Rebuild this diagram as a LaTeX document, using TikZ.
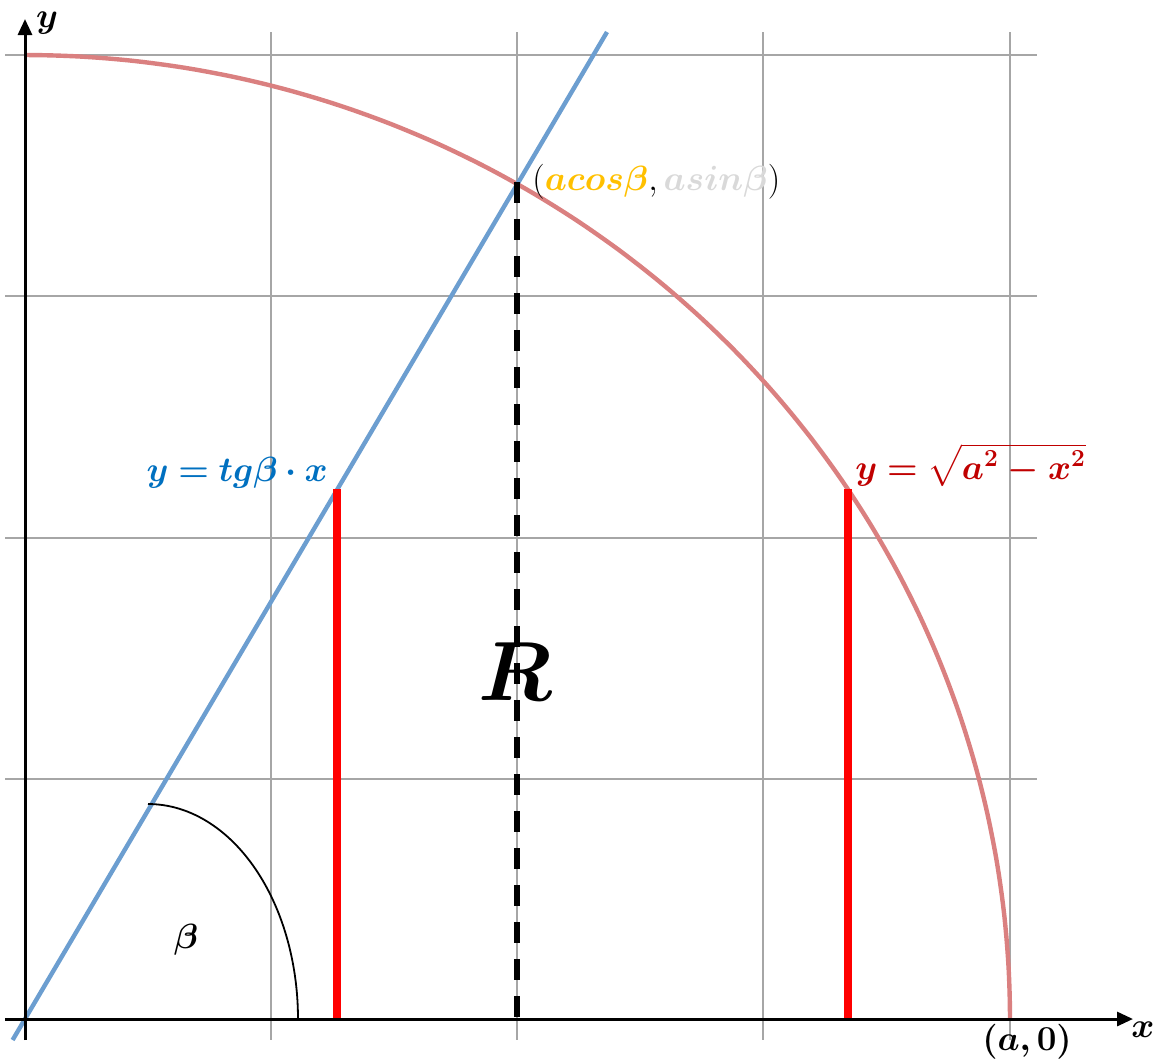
\documentclass[tikz,border=0pt]{standalone}
\usepackage{fix-cm}
\usepackage{amsmath,bm}
\usetikzlibrary{arrows.meta}
\definecolor{circ}{RGB}{218,128,128}
\definecolor{bline}{RGB}{108,158,208}
\definecolor{gridc}{RGB}{166,166,166}
\definecolor{lblue}{RGB}{0,112,192}
\definecolor{lred}{RGB}{192,0,0}
\definecolor{gold}{RGB}{255,192,0}
\definecolor{lgray}{RGB}{217,217,217}
\begin{document}
\begin{tikzpicture}[x=0.5pt,y=-0.5pt,
  gridline/.style={gridc, line width=1.3pt},
  axisline/.style={black, line width=1.5pt, -{Triangle[length=8pt,width=7pt]}},
  curveA/.style={circ, line width=2.2pt},
  lineB/.style={bline, line width=2.2pt},
  redbar/.style={red, line width=3.6pt},
  dashline/.style={black, line width=2.8pt, dash pattern=on 10.5pt off 8pt},
  lbl/.style={font=\fontsize{17.5}{20}\selectfont, inner sep=1pt}]
\useasboundingbox (0,0) rectangle (1156,1062);
% grid
\foreach \gx in {25,271,517,763,1010}
  \draw[gridline] (\gx,32) -- (\gx,1040);
\foreach \gy in {55,296,538,779,1019}
  \draw[gridline] (5,\gy) -- (1037,\gy);
% key points
\coordinate (O) at (25,1019);
\coordinate (P) at (517,182);
\coordinate (Pb) at (517,1019);
\coordinate (L0) at (12.6,1040);
\coordinate (L1) at (607,32);
\coordinate (A1) at (337,489);
\coordinate (A0) at (337,1019);
\coordinate (B1) at (848,489);
\coordinate (B0) at (848,1019);
\coordinate (X0) at (5,1019);
\coordinate (X1) at (1133,1019);
\coordinate (Y0) at (25,1040);
\coordinate (Y1) at (25,19);
% quarter circle
\draw[curveA] plot[domain=0:90, samples=120, smooth] ({25+985*cos(\x)},{1019-964*sin(\x)});
% line
\draw[lineB] (L0) -- (L1);
% dashed vertical
\draw[dashline] (P) -- (Pb);
% red bars
\draw[redbar] (A1) -- (A0);
\draw[redbar] (B1) -- (B0);
% axes
\draw[axisline] (X0) -- (X1);
\draw[axisline] (Y0) -- (Y1);
% beta arc
\draw[black, line width=0.9pt] plot[domain=90:0, samples=60, smooth] ({148+150*cos(\x)},{1019-215*sin(\x)});
% labels
\node[lbl, text=lblue, anchor=east] (tl) at (330,473) {$\bm{y=tg\beta\cdot x}$};
\node[lbl, anchor=west] (cl) at (530,182) {$(\textcolor{gold}{\bm{acos\beta}},\textcolor{lgray}{\bm{asin\beta}})$};
\node[lbl, text=lred, anchor=west] (sl) at (853,465) {$\bm{y=\sqrt{a^2-x^2}}$};
\node[lbl] (al) at (1027,1042) {$\bm{(a,0)}$};
\node[font=\fontsize{42}{46}\selectfont] (R) at (515,672) {$\bm{R}$};
\node[lbl] (beta) at (186,940) {$\bm{\beta}$};
\node[lbl] (xl) at (1143,1030) {$\bm{x}$};
\node[lbl] (yl) at (47,23) {$\bm{y}$};
\end{tikzpicture}
\end{document}
